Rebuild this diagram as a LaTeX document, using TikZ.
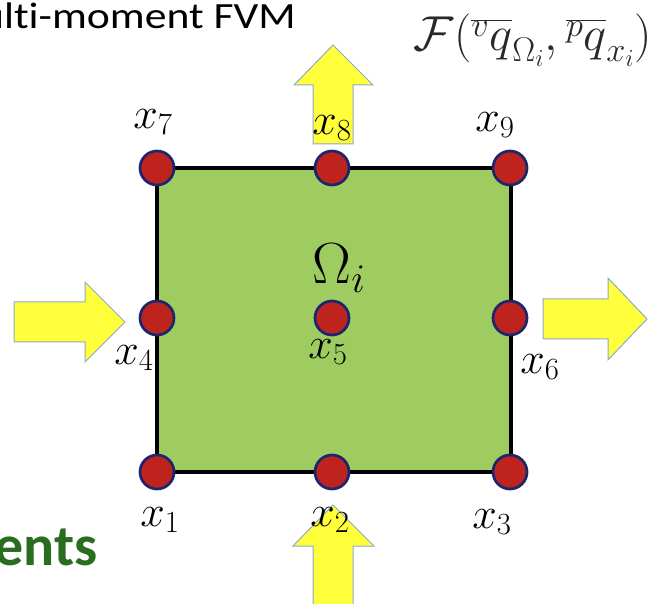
\RequirePackage{fix-cm}
\documentclass[tikz,border=0pt]{standalone}
\usepackage{fontspec}
\newfontfamily\titlefont[FakeStretch=1.18,Ligatures={NoCommon}]{Carlito}
\newfontfamily\calibri{Carlito}
\definecolor{cellgreen}{RGB}{158,204,96}
\definecolor{dotred}{RGB}{190,35,30}
\definecolor{dotblue}{RGB}{25,40,110}
\definecolor{arrowyellow}{RGB}{255,255,60}
\definecolor{arrowedge}{RGB}{140,170,200}
\definecolor{titlegreen}{RGB}{40,110,30}
\definecolor{formulagray}{RGB}{40,40,40}
\tikzset{
  gridpt/.style={circle, fill=dotred, draw=dotblue, line width=2.7pt, minimum size=34pt, inner sep=0pt},
  lbl/.style={font=\fontsize{44}{48}\selectfont, inner sep=0pt},
  flux/.style={fill=arrowyellow, draw=arrowedge, line width=1pt, line join=miter},
  cellbox/.style={fill=cellgreen, draw=black, line width=3.5pt}
}
\begin{document}
\begin{tikzpicture}[x=1pt,y=-1pt]
\useasboundingbox (0,0) rectangle (662,604);
\begin{scope}
\clip (0,0) rectangle (662,604);
% title texts (cut at the left edge, as in the reference)
\node[anchor=base east, inner sep=0pt, font=\titlefont\fontsize{37}{40}\selectfont] (title) at (296,29) {ulti-moment FVM};
\node[anchor=base east, inner sep=0pt, text=titlegreen, font=\calibri\bfseries\fontsize{58}{62}\selectfont] (ents) at (98,565) {ents};
% flux arrows
\draw[flux] (313,144) -- (313,85) -- (294,85) -- (333,45) -- (373,85) -- (353,85) -- (353,144) -- cycle;
\draw[flux] (313,610) -- (313,546) -- (293,546) -- (333,505) -- (374,546) -- (353,546) -- (353,610) -- cycle;
\draw[flux] (14,302) -- (85,302) -- (85,282) -- (125,322) -- (85,362) -- (85,342) -- (14,342) -- cycle;
\draw[flux] (543,299) -- (608,299) -- (608,278) -- (647,319) -- (608,360) -- (608,339) -- (543,339) -- cycle;
\end{scope}
% formula
\node[inner sep=0pt, text=formulagray, font=\fontsize{49}{53}\selectfont] (flux) at (533,40)
  {$\mathcal{F}(\overline{{}^{v}q}_{\Omega_i},\overline{{}^{p}q}_{x_i})$};
% cell
\draw[cellbox] (157,168) rectangle (511,472);
% points
\node[gridpt] (p1) at (157,472) {};
\node[gridpt] (p2) at (332,472) {};
\node[gridpt] (p3) at (510,472) {};
\node[gridpt] (p4) at (157,318) {};
\node[gridpt] (p5) at (332,318) {};
\node[gridpt] (p6) at (510,318) {};
\node[gridpt] (p7) at (157,168) {};
\node[gridpt] (p8) at (332,168) {};
\node[gridpt] (p9) at (510,168) {};
% labels
\node[lbl] (l7) at (153,122) {$x_7$};
\node[lbl] (l8) at (332,128) {$x_8$};
\node[lbl] (l9) at (495,125) {$x_9$};
\node[lbl] (l4) at (134,358) {$x_4$};
\node[lbl] (l5) at (328,352) {$x_5$};
\node[lbl] (l6) at (540,367) {$x_6$};
\node[lbl] (l1) at (160,520) {$x_1$};
\node[lbl] (l2) at (330,520) {$x_2$};
\node[lbl] (l3) at (492,522) {$x_3$};
\node[inner sep=0pt, font=\fontsize{58}{62}\selectfont] (omega) at (339,268) {$\Omega_i$};
\end{tikzpicture}
\end{document}
